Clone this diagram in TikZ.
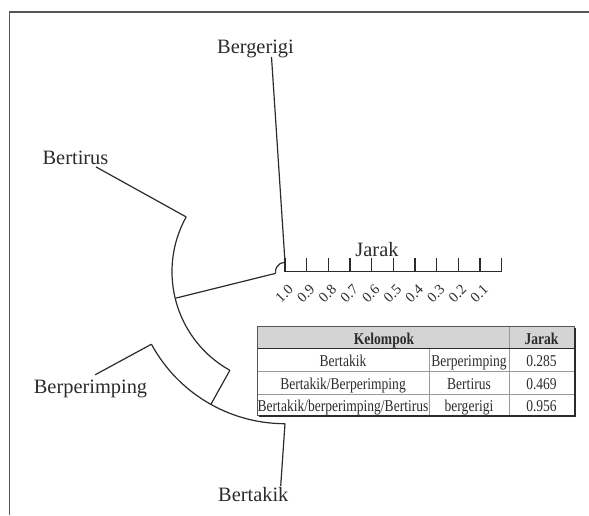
\documentclass[tikz,border=0pt]{standalone}
\usepackage{fontspec}
\setmainfont{Liberation Serif}
\newfontfamily\narrowfont[FakeStretch=0.82]{Liberation Serif}
\definecolor{ink}{HTML}{2B2B2B}
\definecolor{hdr}{HTML}{D4D4D4}
\definecolor{gridc}{HTML}{9A9A9A}
\definecolor{framec}{HTML}{555555}
\begin{document}
\begin{tikzpicture}[x=1pt,y=1pt,
  branch/.style={draw=ink,line width=1.2pt},
  leaflabel/.style={font=\fontsize{20.4}{22}\selectfont,text=ink,anchor=base,inner sep=0pt},
  ticklabel/.style={font=\fontsize{14.5}{15}\selectfont,text=ink,rotate=45,inner sep=0pt},
  cell/.style={font=\narrowfont\fontsize{16.5}{18}\selectfont,text=ink,anchor=base,inner sep=0pt},
  hcell/.style={font=\narrowfont\bfseries\fontsize{16.5}{18}\selectfont,text=ink,anchor=base,inner sep=0pt},
  gridline/.style={draw=gridc,line width=0.8pt},
]
\useasboundingbox (0,0) rectangle (589,515);
% frame
\draw[framec,line width=1.3pt] (9.5,0) -- (9.5,503) -- (589,503);

% centre and junctions
\coordinate (C) at (285,243.3);
\coordinate (rootTop) at ([shift={(90:9.5)}]C);
\coordinate (rootEnd) at ([shift={(190:9.5)}]C);
\coordinate (n469) at ([shift={(193.6:113)}]C);
\coordinate (n469a) at ([shift={(151:113)}]C);
\coordinate (n469b) at ([shift={(240.8:113)}]C);
\coordinate (n285c) at ([shift={(240.8:152)}]C);
\coordinate (n285a) at ([shift={(208.5:152)}]C);
\coordinate (n285b) at ([shift={(270:152)}]C);
\coordinate (leafBergerigi) at (271.5,458);
\coordinate (leafBertirus) at ([shift={(151:216)}]C);
\coordinate (leafBerperimping) at ([shift={(208.5:216)}]C);
\coordinate (leafBertakik) at (280.7,29);

% labels
\node[leaflabel] (lBergerigi) at (255.5,461.7) {Bergerigi};
\node[leaflabel] (lBertirus) at (75.5,350.7) {Bertirus};
\node[leaflabel] (lBerperimping) at (90.5,121.7) {Berperimping};
\node[leaflabel] (lBertakik) at (253.3,13.3) {Bertakik};
\node[leaflabel] (lJarak) at (377,259) {Jarak};

% dendrogram
\draw[branch] (rootTop) -- (leafBergerigi);
\draw[branch] (rootTop) arc[start angle=90,end angle=190,radius=9.5];
\draw[branch] (rootEnd) -- (n469);
\draw[branch] (n469a) arc[start angle=151,end angle=240.8,radius=113];
\draw[branch] (n469a) -- (leafBertirus);
\draw[branch] (n469b) -- (n285c);
\draw[branch] (n285a) arc[start angle=208.5,end angle=270,radius=152];
\draw[branch] (n285a) -- (leafBerperimping);
\draw[branch] (n285b) -- (leafBertakik);

% scale
\coordinate (axEnd) at (501.7,243.3);
\draw[branch] (C) -- (axEnd);
\foreach \k in {0,...,10}{
  \draw[branch] (285+21.667*\k,243.3) -- ++(0,13.7);
}
\foreach \k/\t in {0/1.0,1/0.9,2/0.8,3/0.7,4/0.6,5/0.5,6/0.4,7/0.3,8/0.2,9/0.1}{
  \node[ticklabel] (tk\k) at (284.2+21.667*\k,221.2) {\t};
}

% table
\fill[hdr] (257,166.5) rectangle (574,189);
\draw[gridline] (257,144) -- (574,144);
\draw[gridline] (257,121) -- (574,121);
\draw[gridline] (429,166.5) -- (429,100);
\draw[gridline] (509,189) -- (509,100);
\draw[draw=ink,line width=0.9pt] (257,166.5) -- (574,166.5);
\draw[draw=framec,line width=0.9pt] (257,100) rectangle (574,189);
\draw[draw=ink,line width=1.4pt] (258.5,99.2) -- (574.8,99.2) -- (574.8,187.5);

\node[hcell] (hK) at (384,170.5) {Kelompok};
\node[hcell] (hJ) at (541.5,170.5) {Jarak};
\node[cell] (r1a) at (343,148.3) {Bertakik};
\node[cell] (r1b) at (469,148.3) {Berperimping};
\node[cell] (r1c) at (541.5,148.3) {0.285};
\node[cell] (r2a) at (343,125.7) {Bertakik/Berperimping};
\node[cell] (r2b) at (469,125.7) {Bertirus};
\node[cell] (r2c) at (541.5,125.7) {0.469};
\node[cell] (r3a) at (343,103.3) {Bertakik/berperimping/Bertirus};
\node[cell] (r3b) at (469,103.3) {bergerigi};
\node[cell] (r3c) at (541.5,103.3) {0.956};
\end{tikzpicture}
\end{document}
